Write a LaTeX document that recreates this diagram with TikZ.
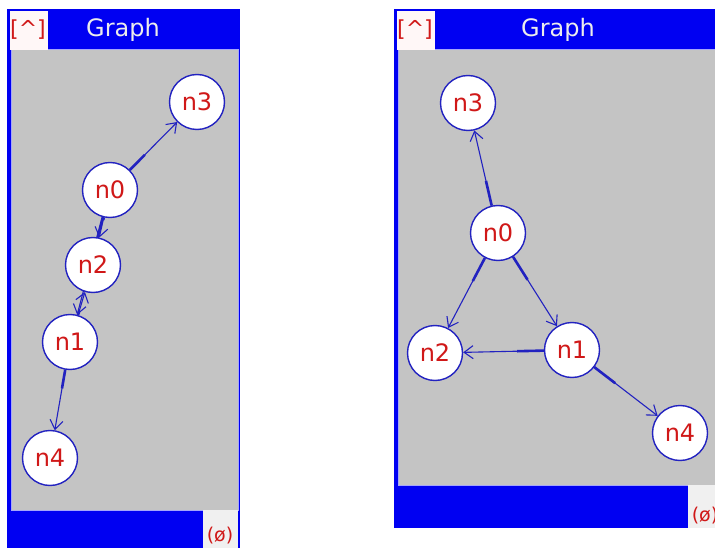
\documentclass[tikz,border=0pt]{standalone}
\usepackage{fontspec}
\setmainfont{DejaVu Sans}
\usetikzlibrary{arrows.meta, calc}
\definecolor{winblue}{HTML}{0000F2}
\definecolor{wingray}{HTML}{C4C4C4}
\definecolor{edgeblue}{HTML}{2222C0}
\definecolor{lblred}{HTML}{D01818}
\pgfdeclarelayer{bg}
\pgfdeclarelayer{edges}
\pgfsetlayers{bg,edges,main}

\tikzset{
  gnode/.style={circle, draw=edgeblue, line width=1.4pt, fill=white, minimum size=55pt,
    inner sep=0pt, text=lblred, font=\fontsize{24}{26}\selectfont},
  edge/.style={draw=edgeblue, line width=1.1pt, -{Straight Barb[length=9pt, width=13pt]}},
  edgetail/.style={draw=edgeblue, line width=2.6pt},
}

\begin{document}
\begin{tikzpicture}[x=1pt, y=-1pt]
  \useasboundingbox (0,0) rectangle (715,548);

  % --- window frames: name / left / right / bottom / gray bottom / bar end / title x
  \begin{pgfonlayer}{bg}
  \foreach \w/\l/\r/\b/\g/\e/\c in {a/7/240/548/510/203/123, b/394/722/528/485/688/558} {
    \fill[winblue] (\l,9) rectangle (\r,\b);
    \filldraw[fill=wingray, draw=winblue!35!white, line width=1pt] (\l+4,50) rectangle (\r-2,\g);
    \fill[gray!12] (\e,\g) rectangle (\r-2,\b);
    \fill[red!3] (\l+3,11) rectangle (\l+41,50);
    \node[text=lblred, font=\fontsize{22}{24}\selectfont] (close\w) at (\l+21,30) {[\textasciicircum]};
    \node[text=gray!15, font=\fontsize{24}{26}\selectfont] (title\w) at (\c,30) {Graph};
    \node[text=lblred, font=\fontsize{19}{21}\selectfont] (empty\w) at (\e+17,\b-12) {(ø)};
  }
  \end{pgfonlayer}

  % --- left graph
  \node[gnode] (n3l) at (197,102) {n3};
  \node[gnode] (n0l) at (110,190) {n0};
  \node[gnode] (n2l) at (93,265) {n2};
  \node[gnode] (n1l) at (70,342) {n1};
  \node[gnode] (n4l) at (50,458) {n4};

  % --- right graph
  \node[gnode] (n3r) at (468,103) {n3};
  \node[gnode] (n0r) at (498,233) {n0};
  \node[gnode] (n2r) at (435,353) {n2};
  \node[gnode] (n1r) at (572,350) {n1};
  \node[gnode] (n4r) at (680,433) {n4};

  % edges, thick near the source
  \begin{pgfonlayer}{edges}
  \foreach \p in {l, r}
    \foreach \s/\t in {0/3, 0/2, 0/1, 1/2, 1/4} {
      \draw[edge] (n\s\p) -- (n\t\p);
      \draw[edgetail] (n\s\p) -- ($(n\s\p)!0.4!(n\t\p)$);
    }
  \end{pgfonlayer}
\end{tikzpicture}
\end{document}
